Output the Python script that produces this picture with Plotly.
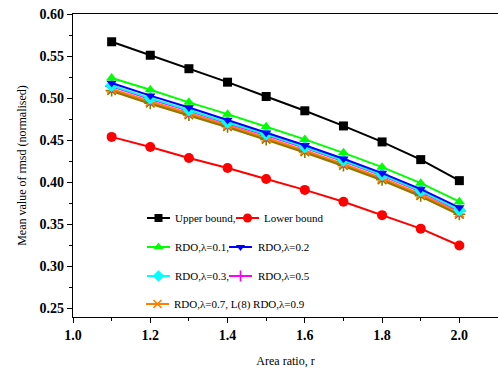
import plotly.graph_objects as go

area_ratio = [1.1, 1.2, 1.3, 1.4, 1.5, 1.6, 1.7, 1.8, 1.9, 2.0]
upper_bound = [0.567, 0.551, 0.535, 0.519, 0.502, 0.485, 0.467, 0.448, 0.427, 0.402]
lower_bound = [0.454, 0.442, 0.429, 0.417, 0.404, 0.391, 0.377, 0.361, 0.345, 0.325]
rdo_01 = [0.524, 0.510, 0.495, 0.481, 0.466, 0.451, 0.435, 0.418, 0.399, 0.377]
rdo_02 = [0.518, 0.503, 0.489, 0.474, 0.459, 0.444, 0.428, 0.411, 0.392, 0.370]
rdo_03 = [0.515, 0.500, 0.486, 0.471, 0.457, 0.442, 0.426, 0.409, 0.390, 0.367]
rdo_05 = [0.514, 0.499, 0.485, 0.470, 0.456, 0.441, 0.425, 0.408, 0.389, 0.366]
rdo_07 = [0.511, 0.496, 0.482, 0.468, 0.453, 0.438, 0.422, 0.405, 0.386, 0.364]
rdo_09 = [0.509, 0.494, 0.480, 0.466, 0.451, 0.436, 0.420, 0.403, 0.384, 0.362]

x_ticks = [1.0, 1.2, 1.4, 1.6, 1.8, 2.0]
y_ticks = [0.25, 0.30, 0.35, 0.40, 0.45, 0.50, 0.55, 0.60]

FONT = "Liberation Serif"
OLIVE = "#8F7700"

series = [
    # name, data, color, symbol, line width, marker size, open?
    ("Upper bound,", upper_bound, "#000000", "square", 2, 9, False),
    ("Lower bound", lower_bound, "#FF0000", "circle", 2, 10, False),
    ("RDO,λ=0.9", rdo_09, OLIVE, "asterisk-open", 3, 10, True),
    ("RDO,λ=0.7, L(8) RDO,λ=0.9", rdo_07, "#FF8000", "x-thin-open", 2, 9, True),
    ("RDO,λ=0.5", rdo_05, "#FF00FF", "cross-thin-open", 2, 9, True),
    ("RDO,λ=0.3,", rdo_03, "#00FFFF", "diamond", 2, 10, False),
    ("RDO,λ=0.2", rdo_02, "#0000FF", "triangle-down", 2, 9, False),
    ("RDO,λ=0.1,", rdo_01, "#00FF00", "triangle-up", 2, 10, False),
]

fig = go.Figure()

def marker_dict(color, symbol, size, is_open):
    if is_open:
        return dict(symbol=symbol, size=size, color=color, line=dict(color=color, width=1.6))
    return dict(symbol=symbol, size=size, color=color, line=dict(width=0))

for name, vals, color, symbol, lw, ms, is_open in series:
    fig.add_trace(go.Scatter(
        x=area_ratio, y=vals, mode="lines+markers", name=name,
        line=dict(color=color, width=lw),
        marker=marker_dict(color, symbol, ms, is_open),
        showlegend=False,
    ))

# Manual legend (pixel coordinates on an overlay axis)
legend_rows = [
    [("Upper bound,", 147, 173), ("Lower bound", 236, 262)],
    [("RDO,λ=0.1,", 147, 173), ("RDO,λ=0.2", 229, 256)],
    [("RDO,λ=0.3,", 147, 173), ("RDO,λ=0.5", 229, 256)],
    [("RDO,λ=0.7, L(8) RDO,λ=0.9", 146, 172)],
]
row_y = [218, 247, 276, 304]
style = {s[0]: s for s in series}
for r, row in enumerate(legend_rows):
    for name, sx, tx in row:
        _, _, color, symbol, lw, ms, is_open = style[name]
        fig.add_trace(go.Scatter(
            x=[sx, sx + 23], y=[row_y[r], row_y[r]], mode="lines",
            line=dict(color=color, width=2), xaxis="x2", yaxis="y2",
            showlegend=False, hoverinfo="skip",
        ))
        fig.add_trace(go.Scatter(
            x=[sx + 11.5], y=[row_y[r]], mode="markers",
            marker=marker_dict(color, symbol, ms - 1, is_open), xaxis="x2", yaxis="y2",
            showlegend=False, hoverinfo="skip",
        ))
        fig.add_annotation(
            x=tx, y=row_y[r], xref="x2", yref="y2", text=name, showarrow=False,
            xanchor="left", yanchor="middle", font=dict(family=FONT, size=11, color="#000"),
        )

axis_common = dict(
    showgrid=False, zeroline=False, showline=True, linecolor="#000", linewidth=1.2,
    mirror=True, ticks="outside", ticklen=5, tickwidth=1, tickcolor="#000",
    tickfont=dict(family=FONT, size=14, color="#000", weight="bold"),
)

fig.update_layout(
    width=498, height=368,
    margin=dict(l=73, r=0, t=14, b=51),
    paper_bgcolor="white", plot_bgcolor="white",
    showlegend=False,
    xaxis=dict(
        range=[1.0, 2.1], tickvals=x_ticks, ticktext=[f"{v:.1f}" for v in x_ticks],
        minor=dict(ticks="outside", ticklen=3, dtick=0.1, tick0=1.0, tickcolor="#000"),
        title=dict(text="Area ratio, r", font=dict(family=FONT, size=12, color="#000"), standoff=14),
        **axis_common,
    ),
    yaxis=dict(
        range=[0.24, 0.60], tickvals=y_ticks, ticktext=[f"{v:.2f}" for v in y_ticks],
        minor=dict(ticks="outside", ticklen=3, dtick=0.025, tick0=0.25, tickcolor="#000"),
        title=dict(text="Mean value of rmsd (normalised)", font=dict(family=FONT, size=12, color="#000"), standoff=10),
        **axis_common,
    ),
    xaxis2=dict(range=[73, 498], overlaying="x", visible=False, fixedrange=True),
    yaxis2=dict(range=[317, 14], overlaying="y", visible=False, fixedrange=True),
)

fig.write_html("out.html")
